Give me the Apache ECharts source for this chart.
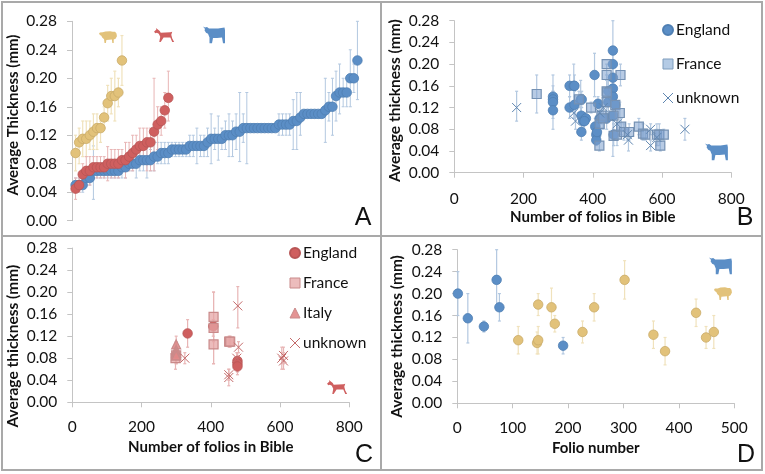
<!DOCTYPE html>
<html><head><meta charset="utf-8">
<style>html,body{margin:0;padding:0;background:#fff}#c{width:765px;height:474px}#c canvas{filter:blur(.35px)}</style>
<script src="https://cdn.jsdelivr.net/npm/echarts@6/dist/echarts.min.js"></script></head>
<body><div id="c"></div>
<script>
const yTicks = ['0.00','0.04','0.08','0.12','0.16','0.20','0.24','0.28'];
// Panel A: sorted thickness by rank
const aCattle = [.05,.05,.05,.06,.06,.07,.07,.07,.07,.07,.07,.07,.07,.075,.075,.08,.08,.08,.085,.085,.085,.085,.09,.09,.095,.095,.095,.10,.10,.10,.10,.10,.105,.105,.105,.105,.105,.11,.115,.115,.115,.115,.12,.12,.12,.125,.125,.13,.13,.13,.13,.13,.13,.13,.13,.13,.13,.135,.135,.135,.135,.14,.14,.145,.15,.15,.15,.15,.15,.15,.155,.16,.16,.175,.18,.18,.18,.20,.20,.225];
const aCattleLow = [.04,.04,.04,.05,.05,.03,.06,.06,.06,.06,.06,.06,.06,.06,.06,.07,.07,.06,.07,.07,.06,.07,.07,.08,.08,.08,.08,.09,.09,.09,.09,.09,.09,.09,.08,.09,.09,.09,.08,.10,.085,.10,.10,.09,.09,.10,.083,.11,.08,.13,.13,.13,.13,.13,.13,.13,.13,.12,.12,.12,.12,.10,.10,.12,.15,.15,.15,.15,.15,.15,.11,.14,.12,.14,.15,.16,.16,.16,.18,.17];
const aCattleHigh = [.06,.06,.06,.07,.07,.105,.08,.08,.08,.08,.08,.08,.08,.09,.09,.09,.09,.10,.10,.10,.11,.10,.11,.11,.11,.11,.11,.11,.11,.11,.11,.11,.12,.12,.13,.12,.12,.13,.15,.13,.147,.13,.14,.15,.14,.15,.18,.15,.18,.13,.13,.13,.13,.13,.13,.13,.13,.15,.15,.15,.15,.17,.18,.18,.15,.15,.15,.15,.15,.15,.20,.18,.20,.21,.22,.20,.20,.24,.22,.28];
const aGoat = [.045,.05,.065,.07,.07,.075,.075,.075,.075,.08,.08,.08,.08,.085,.085,.09,.095,.10,.105,.105,.11,.11,.125,.135,.14,.155,.1725];
const aGoatLow = [.03,.04,.05,.06,.05,.06,.06,.06,.06,.056,.06,.06,.06,.07,.06,.07,.07,.08,.08,.08,.07,.07,.07,.10,.12,.13,.14];
const aGoatHigh = [.06,.06,.08,.09,.09,.09,.09,.09,.09,.104,.10,.10,.10,.10,.11,.11,.12,.12,.13,.13,.13,.13,.20,.16,.16,.18,.21];
const aSheep = [.095,.11,.115,.115,.12,.125,.13,.13,.145,.165,.175,.175,.18,.225];
const aSheepLow = [.07,.08,.09,.09,.10,.10,.10,.11,.13,.14,.15,.14,.16,.19];
const aSheepHigh = [.12,.13,.14,.14,.14,.15,.15,.14,.16,.19,.20,.21,.20,.26];
// Panels B-D: [x, value, low, high]
const bEngland = [[285,.14,.12,.16],[285,.135,.11,.18],[285,.13,.10,.15],[285,.115,.08,.15],[333,.16,.14,.18],[345,.16,.12,.20],[347,.16,.14,.18],[333,.12,.10,.14],[347,.125,.10,.15],[365,.135,.10,.17],[368,.135,.12,.15],[367,.105,.09,.12],[372,.095,.08,.11],[380,.10,.09,.11],[376,.095,.08,.11],[367,.075,.06,.09],[405,.18,.14,.22],[407,.085,.07,.10],[410,.07,.06,.08],[410,.06,.05,.07],[412,.075,.06,.09],[415,.127,.11,.14],[420,.10,.08,.12],[440,.10,.08,.12],[445,.13,.11,.15],[445,.15,.13,.17],[458,.225,.17,.28],[458,.20,.18,.22],[458,.175,.15,.20],[458,.155,.13,.18],[458,.14,.12,.16],[458,.105,.03,.15],[465,.125,.10,.15],[460,.07,.05,.09]];
const bFrance = [[238,.145,.11,.18],[360,.135,.12,.15],[395,.12,.11,.13],[419,.05,.04,.06],[420,.09,.08,.10],[425,.105,.09,.12],[430,.10,.08,.12],[440,.20,.15,.20],[440,.18,.14,.18],[440,.15,.13,.17],[441,.148,.13,.17],[440,.13,.11,.15],[465,.125,.10,.15],[480,.18,.16,.20],[478,.11,.09,.13],[460,.105,.09,.12],[460,.068,.05,.09],[470,.07,.05,.09],[482,.085,.07,.10],[490,.075,.06,.09],[505,.075,.06,.09],[533,.085,.07,.10],[545,.072,.06,.09],[552,.07,.06,.08],[585,.07,.05,.09],[592,.07,.05,.09],[595,.05,.04,.06],[605,.07,.06,.08]];
const bUnknown = [[180,.12,.095,.15],[350,.095,.08,.12],[345,.11,.10,.13],[420,.11,.09,.13],[430,.12,.10,.14],[470,.09,.07,.11],[500,.07,.06,.08],[503,.06,.04,.08],[567,.05,.04,.06],[567,.08,.07,.09],[585,.065,.05,.08],[666,.08,.06,.10]];
const cEngland = [[333,.125,.10,.15],[407,.138,.12,.15],[477,.075,.06,.09],[477,.07,.055,.085],[477,.065,.05,.08]];
const cFrance = [[298,.08,.06,.10],[300,.085,.07,.10],[408,.155,.11,.20],[408,.135,.07,.20],[408,.105,.07,.14],[453,.11,.10,.12],[456,.11,.10,.12]];
const cItaly = [[300,.105,.09,.12],[300,.095,.08,.11],[300,.09,.08,.10],[300,.085,.07,.10]];
const cUnknown = [[325,.08,.07,.09],[452,.05,.04,.06],[452,.045,.03,.06],[478,.175,.135,.21],[480,.10,.09,.11],[475,.08,.07,.09],[605,.08,.06,.10],[610,.085,.07,.10],[610,.075,.06,.09]];
const dCattle = [[1,.20,.16,.24],[19,.155,.11,.20],[48,.14,.13,.15],[71,.225,.17,.28],[76,.175,.15,.20],[191,.105,.09,.12]];
const dSheep = [[110,.115,.09,.14],[144,.11,.09,.13],[146,.115,.09,.14],[146,.18,.16,.20],[170,.175,.14,.21],[176,.145,.13,.16],[226,.13,.11,.15],[247,.175,.15,.20],[302,.225,.19,.26],[354,.125,.10,.15],[375,.095,.07,.12],[431,.165,.14,.19],[449,.12,.10,.14],[463,.13,.10,.16]];

const FONT='Lato', TXT='#111';
const BLUE='#5b8ec6',BLUEB='#4f7fb3',BLUEE='#b3c8e0';
const RED='#cf5f5f',REDB='#b85555',REDE='#e8b5b5';
const SHEEP='#e2c27a',SHEEPB='#c9ab68',SHEEPE='#f0e2bc';
const CROSS='path://M0 0L10 10M10 0L0 10';

const grids=[
 {left:72,top:21.3,width:289,height:199.4},
 {left:454.3,top:20.7,width:277,height:152},
 {left:72.3,top:248,width:277,height:154.3},
 {left:457.3,top:249.7,width:277,height:153.6}];

// shift: how far the rotated axis title sits below the middle of the axis (negative = above)
function yAxis(i,name,gap,shift,size){return {gridIndex:i,type:'value',min:0,max:.28,interval:.04,name,nameLocation:'middle',nameGap:gap,
  nameTextStyle:{fontFamily:FONT,fontWeight:'bold',fontSize:size,color:TXT,padding:shift>0?[0,2*shift,0,0]:[0,0,0,-2*shift]},
  axisLine:{show:true,lineStyle:{color:'#c4c4c4',width:1}},axisTick:{show:true,length:5,lineStyle:{color:'#c4c4c4'}},splitLine:{show:false},
  axisLabel:{fontFamily:FONT,fontSize:15.5,color:TXT,margin:15,padding:[4,0,0,0],formatter:v=>yTicks[Math.round(v/.04)]}};}
function xAxis(i,max,interval,name,margin,gap){return {gridIndex:i,type:'value',min:0,max,interval,name,nameLocation:'middle',nameGap:gap,
  nameTextStyle:{fontFamily:FONT,fontWeight:'bold',fontSize:15,color:TXT},
  axisLine:{show:true,onZero:false,lineStyle:{color:'#c4c4c4',width:1}},axisTick:{show:true,length:5,inside:false,lineStyle:{color:'#c4c4c4'}},splitLine:{show:false},
  axisLabel:{fontFamily:FONT,fontSize:15.5,color:TXT,margin}};}

function errBars(i,rows,color,w){return {type:'custom',name:'err',coordinateSystem:'cartesian2d',xAxisIndex:i,yAxisIndex:i,z:1,silent:true,clip:false,
  data:rows,encode:{x:0,y:[1,2]},
  renderItem(p,api){const a=api.coord([api.value(0),api.value(1)]),b=api.coord([api.value(0),api.value(2)]);
    const st={stroke:color,lineWidth:w||1.2,fill:null};
    if(api.value(1)===api.value(2))return null;
    return {type:'group',children:[
     {type:'line',shape:{x1:a[0],y1:a[1],x2:b[0],y2:b[1]},style:st},
     {type:'line',shape:{x1:a[0]-1.5,y1:a[1],x2:a[0]+1.5,y2:a[1]},style:st},
     {type:'line',shape:{x1:b[0]-1.5,y1:b[1],x2:b[0]+1.5,y2:b[1]},style:st}]};}};}
function pts(i,name,rows,symbol,size,style,z){return {type:'scatter',name,xAxisIndex:i,yAxisIndex:i,symbol,symbolSize:size,z:z||3,clip:false,silent:true,
  data:rows.map(r=>[r[0],r[1]]),itemStyle:style};}
const ranked=(v,lo,hi)=>v.map((y,k)=>[k+1,y,lo[k],hi[k]]);
const errs=rows=>rows.map(r=>[r[0],r[2],r[3]]);
const circ=(c,b)=>({color:c,borderColor:b,borderWidth:.8,opacity:1});
const sq=(c,b)=>({color:c,borderColor:b,borderWidth:1.2,opacity:1});
const cross=b=>({color:'transparent',borderColor:b,borderWidth:1,opacity:1});

const rC=ranked(aCattle,aCattleLow,aCattleHigh),rG=ranked(aGoat,aGoatLow,aGoatHigh),rS=ranked(aSheep,aSheepLow,aSheepHigh);
const series=[
 errBars(0,errs(rC),BLUEE,1),errBars(0,errs(rS),SHEEPE),errBars(0,errs(rG),REDE,1),
 pts(0,'Cattle',rC,'circle',9.5,circ(BLUE,BLUEB),3),pts(0,'Sheep',rS,'circle',9.5,circ(SHEEP,SHEEPB),4),pts(0,'Goat',rG,'circle',9.5,circ(RED,REDB),5),
 errBars(1,errs(bEngland),BLUEE),errBars(1,errs(bFrance),BLUEE),errBars(1,errs(bUnknown),BLUEE),
 pts(1,'England',bEngland,'circle',9.5,circ(BLUE,BLUEB),3),
 pts(1,'France',bFrance,'rect',9,sq('rgba(125,160,205,.55)','#7591b3'),4),
 pts(1,'unknown',bUnknown,CROSS,9,cross('#5f86b0'),5),
 errBars(2,errs(cEngland),REDE),errBars(2,errs(cFrance),REDE),errBars(2,errs(cItaly),REDE),errBars(2,errs(cUnknown),REDE),
 pts(2,'England',cEngland,'circle',9.5,circ(RED,REDB),3),
 pts(2,'France',cFrance,'rect',9,sq('rgba(230,165,165,.75)','#c98a8a'),4),
 pts(2,'Italy',cItaly,'triangle',9,sq('rgba(225,135,135,.9)','#c98a8a'),4),
 pts(2,'unknown',cUnknown,CROSS,9,cross('#c46a6a'),5),
 errBars(3,errs(dCattle),BLUEE),errBars(3,errs(dSheep),SHEEPE),
 pts(3,'Cattle',dCattle,'circle',9.5,circ(BLUE,BLUEB),3),pts(3,'Sheep',dSheep,'circle',9.5,circ(SHEEP,SHEEPB),4)
];

function legend(left,top,gap,items){return {orient:'vertical',left,top,itemGap:gap,itemWidth:10,itemHeight:10,selectedMode:false,padding:0,
  textStyle:{fontFamily:FONT,fontSize:15.5,color:TXT,padding:[0,0,0,-2]},data:items};}

const COW=[[0,1],[4,3],[8,2],[12,5],[30,5],[43,3],[44,8],[44,33],[40,33],[38,22],[28,23],[20,23],[18,33],[13,33],[13,22],[10,15],[6,13],[3,8],[4,6]];
const SHP=[[0,6],[2,3.5],[8,3],[14,1],[24,.5],[30,2],[35,2],[38,6],[39,12],[36,18],[32,20],[32,28],[29,28],[28,20],[16,21],[15,28],[12,28],[11,19],[7,15],[5,11],[2,9.5]];
const GOAT=[[0,8],[5,3],[4,0],[8,3],[12,6],[14,10],[34,9],[38,8],[36,14],[38,22],[42,29],[38,29],[34,20],[20,20],[14,29],[11,29],[13,18],[10,12],[6,10],[3,11]];
const icon=(p,x,y,sx,sy,fill)=>({type:'polygon',silent:true,x,y,scaleX:sx,scaleY:sy,shape:{points:p},style:{fill}});
const letter=(t,x,y)=>({type:'text',silent:true,x,y,style:{text:t,fontFamily:'Liberation Sans',fontSize:25,fill:'#111',align:'center',verticalAlign:'middle'}});
const border=(x,y,w,h)=>({type:'rect',silent:true,z:-1,shape:{x,y,width:w,height:h},style:{fill:'none',stroke:'#a9a9a9',lineWidth:2}});

const option={animation:false,backgroundColor:'#fff',tooltip:{show:false},
 grid:grids,
 xAxis:[{gridIndex:0,type:'value',min:0,max:81,show:false},xAxis(1,800,200,'Number of folios in Bible',18,37),xAxis(2,800,200,'Number of folios in Bible',17,37),xAxis(3,500,100,'Folio number',17,37)],
 yAxis:[yAxis(0,'Average Thickness (mm)',51,-6,15),yAxis(1,'Average thickness (mm)',51,4,15.5),yAxis(2,'Average thickness (mm)',51,21,15.5),yAxis(3,'Average thickness (mm)',52,10,15.5)],
 legend:[
  legend(662,22,18,[{name:'England',icon:'circle',itemStyle:{color:BLUE,borderColor:BLUEB}},{name:'France',icon:'rect',itemStyle:{color:'rgba(140,175,215,.65)',borderColor:'#7f9dbd',borderWidth:1}},{name:'unknown',icon:CROSS,itemStyle:{color:'transparent',borderColor:'#5f86b0',borderWidth:1}}]),
  legend(289,245,14,[{name:'England',icon:'circle',itemStyle:{color:RED,borderColor:REDB}},{name:'France',icon:'rect',itemStyle:{color:'rgba(230,165,165,.75)',borderColor:'#c98a8a',borderWidth:1}},{name:'Italy',icon:'triangle',itemStyle:{color:'rgba(225,135,135,.9)',borderColor:'#c98a8a',borderWidth:1}},{name:'unknown',icon:CROSS,itemStyle:{color:'transparent',borderColor:'#c46a6a',borderWidth:1}}])
 ],
 series,
 graphic:[
  border(2,2,379,234),border(381,2,381,234),border(2,236,379,234),border(381,236,381,234),
  icon(SHP,99,31,.46,.43,SHEEP),icon(GOAT,154,28,.48,.48,RED),icon(COW,203,26,.5,.52,BLUE),
  icon(COW,705,143,.52,.52,BLUE),icon(GOAT,327,380,.48,.48,RED),
  icon(COW,709,257,.52,.52,BLUE),icon(SHP,714,287,.46,.46,SHEEP),
  letter('A',363,218),letter('B',745,218),letter('C',364,455),letter('D',746,455)
 ]};
echarts.init(document.getElementById('c'),null,{renderer:'canvas'}).setOption(option);
</script></body></html>
